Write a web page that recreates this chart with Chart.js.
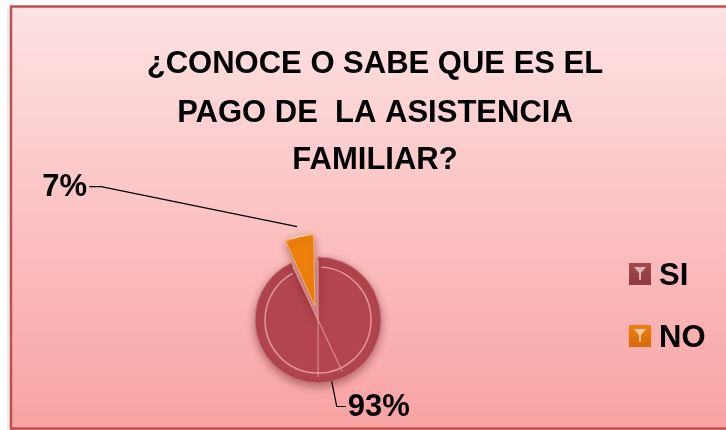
<!DOCTYPE html>
<html>
<head>
<meta charset="utf-8">
<script src="https://cdn.jsdelivr.net/npm/chart.js@4/dist/chart.umd.min.js"></script>
<style>
  html, body { margin: 0; padding: 0; background: #ffffff; }
  #wrap { width: 726px; height: 430px; position: relative; }
</style>
</head>
<body>
<div id="wrap"><canvas id="c" width="726" height="430"></canvas></div>
<script>
// ---- data ----
const categories = ['SI', 'NO'];
const values = [93, 7];
const percentLabels = ['93%', '7%'];
const titleLines = ['¿CONOCE O SABE QUE ES EL', 'PAGO DE  LA ASISTENCIA', 'FAMILIAR?'];

// ---- styles ----
const sliceColors = ['#b2454d', '#f0820c'];
const legendColors = ['#a8474b', '#ee7f10'];
const FONT = '"Liberation Sans", Arial, sans-serif';

function sliceFill(ctx) {
  const i = ctx.dataIndex;
  const el = ctx.element;
  const c = ctx.chart.ctx;
  if (!el || !el.outerRadius) return sliceColors[i];
  const r = el.outerRadius;
  const g = c.createRadialGradient(el.x, el.y, 0, el.x, el.y, r);
  if (i === 0) {
    g.addColorStop(0, '#b84c55');
    g.addColorStop(0.78, '#b0444c');
    g.addColorStop(0.86, '#c46a70');
    g.addColorStop(0.93, '#ae4a50');
    g.addColorStop(1, '#8f3238');
  } else {
    g.addColorStop(0, '#e07008');
    g.addColorStop(0.6, '#f39020');
    g.addColorStop(0.85, '#fbd9a0');
    g.addColorStop(1, '#e88a20');
  }
  return g;
}

const decorPlugin = {
  id: 'decor',
  beforeDraw(chart) {
    const ctx = chart.ctx;
    const W = chart.width, H = chart.height;
    ctx.save();
    ctx.fillStyle = '#ffffff';
    ctx.fillRect(0, 0, W, H);
    ctx.fillStyle = 'rgba(0,0,0,0.08)';
    ctx.fillRect(7, 8, 3, H);
    const g = ctx.createLinearGradient(0, 6, 0, H);
    g.addColorStop(0, '#fde3e4');
    g.addColorStop(0.5, '#fcc2c3');
    g.addColorStop(1, '#f8a2a3');
    ctx.fillStyle = g;
    ctx.fillRect(10, 6, W - 10, H - 6);
    ctx.strokeStyle = '#c0504d';
    ctx.lineWidth = 2.5;
    ctx.strokeRect(11, 6.5, W + 10, H - 8);
    ctx.restore();
  },
  beforeDatasetsDraw(chart) {
    const ctx = chart.ctx;
    ctx.save();
    ctx.shadowColor = 'rgba(80,0,0,0.4)';
    ctx.shadowBlur = 8;
    ctx.shadowOffsetY = 3;
  },
  afterDatasetsDraw(chart) {
    const ctx = chart.ctx;
    ctx.restore();
    const meta = chart.getDatasetMeta(0);
    meta.data.forEach((arc, i) => {
      const p = arc.getProps(['x', 'y', 'startAngle', 'endAngle', 'outerRadius'], true);
      const circ = p.endAngle - p.startAngle;
      const off = (arc.options.offset || 0) * (1 - Math.sin(Math.min(Math.PI, circ)));
      const mid = (p.startAngle + p.endAngle) / 2;
      const cx = p.x + Math.cos(mid) * off;
      const cy = p.y + Math.sin(mid) * off;
      ctx.save();
      ctx.strokeStyle = i === 0 ? 'rgba(240,170,170,0.85)' : 'rgba(255,230,180,0.9)';
      ctx.lineWidth = 1.4;
      ctx.beginPath();
      const ri = p.outerRadius - 10;
      ctx.arc(cx, cy, ri, p.startAngle + 0.06, p.endAngle - 0.06);
      ctx.stroke();
      if (i === 0) {
        ctx.strokeStyle = 'rgba(235,160,160,0.75)';
        ctx.lineWidth = 1.2;
        [p.startAngle, p.endAngle].forEach(a => {
          ctx.beginPath();
          ctx.moveTo(cx + Math.cos(a) * (p.outerRadius - 4), cy + Math.sin(a) * (p.outerRadius - 4));
          ctx.lineTo(cx - Math.cos(a) * (p.outerRadius - 6), cy - Math.sin(a) * (p.outerRadius - 6));
          ctx.stroke();
        });
      }
      ctx.restore();
    });
  },
  afterDraw(chart) {
    const ctx = chart.ctx;
    const meta = chart.getDatasetMeta(0);
    ctx.save();
    ctx.fillStyle = '#000000';
    ctx.font = 'bold 31px ' + FONT;
    ctx.textAlign = 'center';
    ctx.textBaseline = 'alphabetic';
    const baselines = [73, 122, 169];
    titleLines.forEach((t, i) => ctx.fillText(t, 375, baselines[i]));

    ctx.font = 'bold 31px ' + FONT;
    ctx.textBaseline = 'middle';
    ctx.strokeStyle = '#000000';
    ctx.lineWidth = 1.2;
    meta.data.forEach((arc, i) => {
      const p = arc.getProps(['x', 'y', 'startAngle', 'endAngle', 'outerRadius'], true);
      const circ = p.endAngle - p.startAngle;
      const off = (arc.options.offset || 0) * (1 - Math.sin(Math.min(Math.PI, circ)));
      const mid = (p.startAngle + p.endAngle) / 2;
      const R = p.outerRadius + off;
      const ax = p.x + Math.cos(mid) * R;
      const ay = p.y + Math.sin(mid) * R;
      ctx.beginPath();
      if (i === 1) {
        const ex = ax - 196, ey = ay - 40;
        ctx.moveTo(ax, ay);
        ctx.lineTo(ex, ey);
        ctx.lineTo(ex - 12, ey);
        ctx.stroke();
        ctx.textAlign = 'right';
        ctx.fillText(percentLabels[i], ex - 14, ey + 1);
      } else {
        const ex = ax + 5, ey = ay + 25;
        ctx.moveTo(ax, ay);
        ctx.lineTo(ex, ey);
        ctx.lineTo(ex + 9, ey);
        ctx.stroke();
        ctx.textAlign = 'left';
        ctx.fillText(percentLabels[i], ex + 11, ey + 1);
      }
    });

    const lx = 629, ly = [263, 325], box = 22;
    categories.forEach((name, i) => {
      const y = ly[i];
      const g = ctx.createLinearGradient(lx, y, lx, y + box);
      g.addColorStop(0, legendColors[i]);
      g.addColorStop(1, i === 0 ? '#8e3a3e' : '#d86a06');
      ctx.fillStyle = g;
      ctx.fillRect(lx, y, box, box);
      ctx.fillStyle = 'rgba(255,255,255,0.6)';
      ctx.beginPath();
      ctx.moveTo(lx + 5, y + 4);
      ctx.lineTo(lx + 17, y + 4);
      ctx.lineTo(lx + 12, y + 10);
      ctx.lineTo(lx + 12, y + 17);
      ctx.lineTo(lx + 10, y + 17);
      ctx.lineTo(lx + 10, y + 10);
      ctx.closePath();
      ctx.fill();
      ctx.fillStyle = '#000000';
      ctx.textAlign = 'left';
      ctx.font = 'bold 31px ' + FONT;
      ctx.fillText(name, lx + 30, y + box / 2 + 2);
    });
    ctx.restore();
  }
};

new Chart(document.getElementById('c'), {
  type: 'pie',
  data: {
    labels: categories,
    datasets: [{
      data: values,
      backgroundColor: sliceFill,
      borderColor: ['#c77a7e', '#f7b060'],
      borderWidth: 1,
      offset: [0, 57],
      hoverOffset: 0,
      radius: 63
    }]
  },
  options: {
    responsive: false,
    animation: false,
    events: [],
    layout: { padding: { left: 238, right: 328, top: 240, bottom: 30 } },
    plugins: {
      legend: { display: false },
      title: { display: false },
      tooltip: { enabled: false }
    }
  },
  plugins: [decorPlugin]
});
</script>
</body>
</html>
